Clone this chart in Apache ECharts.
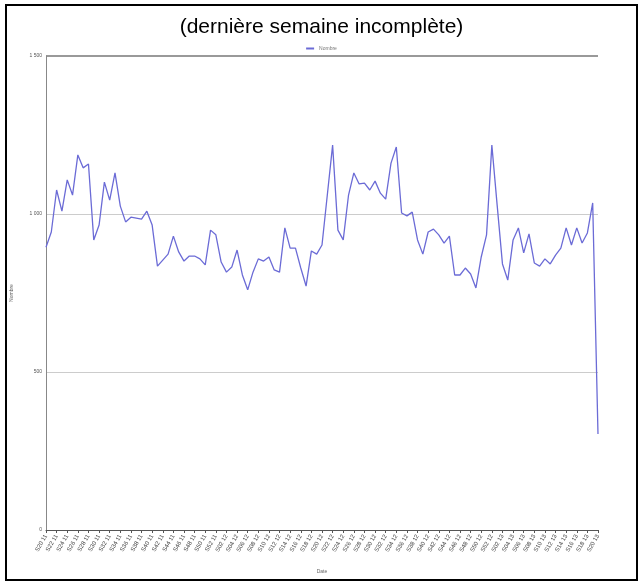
<!DOCTYPE html>
<html>
<head>
<meta charset="utf-8">
<script src="https://cdn.jsdelivr.net/npm/echarts@6/dist/echarts.min.js"></script>
<style>
html,body{margin:0;padding:0;background:#fff;}
#c{position:absolute;left:0;top:0;width:643px;height:586px;}
#frame{position:absolute;left:5px;top:4px;width:629px;height:573px;border:2px solid #000;pointer-events:none;}
</style>
</head>
<body>
<div id="c"></div>
<div id="frame"></div>
<script>
var titleText = "(dernière semaine incomplète)";
var seriesName = "Nombre";
var yTicks = [0, 500, 1000, 1500];

// weeks S20 2011 .. S20 2013
var categories = [];
(function(){
  var y = 11, w = 20;
  for (var i = 0; i < 105; i++) {
    categories.push("S" + (w < 10 ? "0" + w : w) + " " + y);
    w++;
    if (w > 52) { w = 1; y++; }
  }
})();

var values = [
  895, 943, 1076, 1009, 1108, 1060, 1187, 1146, 1158, 918,
  965, 1101, 1044, 1130, 1025, 975, 990, 987, 984, 1009,
  965, 835, 854, 873, 930, 880, 851, 867, 867, 858,
  839, 949, 934, 848, 816, 832, 886, 807, 760, 816,
  858, 851, 864, 823, 816, 956, 892, 892, 829, 772,
  883, 873, 902, 1060, 1218, 949, 918, 1060, 1130, 1095,
  1098, 1076, 1104, 1066, 1047, 1161, 1212, 1003, 994, 1006,
  918, 873, 943, 952, 934, 908, 930, 807, 807, 829,
  810, 766, 864, 934, 1218, 1028, 842, 791, 918, 956,
  877, 937, 845, 835, 858, 842, 870, 892, 956, 902,
  956, 908, 940, 1035, 304
];

var chart = echarts.init(document.getElementById('c'));
chart.setOption({
  animation: false,
  backgroundColor: '#fff',
  title: {
    text: titleText, left: 'center', top: 12,
    textStyle: {fontFamily: 'Liberation Sans', fontSize: 21, fontWeight: 'normal', color: '#000'}
  },
  legend: {
    data: [seriesName], top: 41, left: 'center',
    itemWidth: 8, itemHeight: 2, itemGap: 4,
    icon: 'rect',
    textStyle: {fontFamily: 'Liberation Sans', fontSize: 5, color: '#777'}
  },
  grid: {left: 46, right: 45, top: 56, bottom: 56},
  xAxis: {
    type: 'category', data: categories, boundaryGap: false,
    name: 'Date', nameLocation: 'middle', nameGap: 39,
    nameTextStyle: {fontFamily: 'Liberation Sans', fontSize: 5, color: '#666'},
    axisLine: {lineStyle: {color: '#555', width: 1}},
    axisTick: {interval: 1, length: 3, lineStyle: {color: '#555'}},
    axisLabel: {interval: 1, rotate: 60, fontSize: 6, color: '#444', fontFamily: 'Liberation Sans', margin: 5}
  },
  yAxis: {
    type: 'value', min: 0, max: 1500, interval: 500,
    name: 'Nombre', nameLocation: 'middle', nameGap: 32, nameRotate: 90,
    nameTextStyle: {fontFamily: 'Liberation Sans', fontSize: 5, color: '#666'},
    axisLine: {show: true, lineStyle: {color: '#888', width: 1}},
    axisTick: {show: false},
    axisLabel: {
      fontSize: 5, color: '#555', fontFamily: 'Liberation Sans', margin: 4,
      formatter: function(v){ return v >= 1000 ? Math.floor(v/1000) + ' ' + String(v % 1000).padStart(3,'0') : String(v); }
    },
    splitLine: {lineStyle: {color: ['#ccc', '#ccc', '#ccc', '#999'], width: 1}}
  },
  series: [{
    name: seriesName, type: 'line', data: values,
    symbol: 'none', smooth: false,
    lineStyle: {color: '#6b6bd6', width: 1.3},
    itemStyle: {color: '#6b6bd6'}
  }],
  graphic: [{
    type: 'line', silent: true,
    shape: {x1: 46, y1: 56, x2: 598, y2: 56},
    style: {stroke: '#999', lineWidth: 2}
  }]
});
</script>
</body>
</html>
